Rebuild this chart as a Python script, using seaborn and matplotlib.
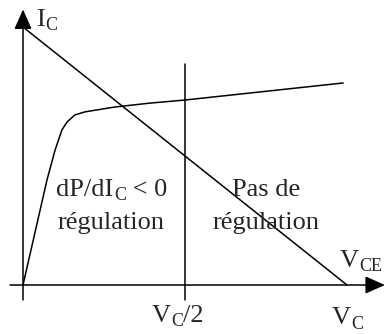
import matplotlib
matplotlib.use("Agg")
import matplotlib.pyplot as plt
import seaborn as sns
import pandas as pd

# Transistor output characteristic I_C(V_CE), normalised so that V_C = 1 and I_C(max of load line) = 1
curve_vce = [0.0, 0.074, 0.099, 0.120, 0.136, 0.160, 0.191, 0.284, 0.392, 0.500, 0.988]
curve_ic = [0.0, 0.407, 0.523, 0.601, 0.632, 0.659, 0.671, 0.690, 0.705, 0.717, 0.783]

# Load line from (0, I_C max) to (V_C, 0)
load_vce = [0.0, 1.0]
load_ic = [1.0, 0.0]

# Vertical marker at V_C/2
half_x = [0.5, 0.5]
half_y = [-0.058, 0.857]

sns.set_theme(style="white")
plt.rcParams["font.family"] = ["Liberation Serif", "DejaVu Serif"]

fig = plt.figure(figsize=(3.85, 3.34), dpi=100)
ax = fig.add_axes([0, 0, 1, 1])
ax.set_xlim(-23 / 324, (385 - 23) / 324)
ax.set_ylim((285 - 334) / 258, 285 / 258)
ax.axis("off")

lw = 1.1
curve = pd.DataFrame({"vce": curve_vce, "ic": curve_ic})
load = pd.DataFrame({"vce": load_vce, "ic": load_ic})
half = pd.DataFrame({"vce": half_x, "ic": half_y})
sns.lineplot(data=curve, x="vce", y="ic", ax=ax, color="black", lw=lw, sort=False)
sns.lineplot(data=load, x="vce", y="ic", ax=ax, color="black", lw=lw, sort=False)
sns.lineplot(data=half, x="vce", y="ic", ax=ax, color="black", lw=lw, sort=False,
             orient="y")

# Axes with arrow heads
arrow = dict(arrowstyle="-|>,head_length=0.45,head_width=0.2", lw=lw, color="black",
             mutation_scale=27, shrinkA=0, shrinkB=0)
ax.annotate("", xy=(0, 1.068), xytext=(0, -0.058), arrowprops=arrow)
ax.annotate("", xy=(1.117, 0), xytext=(-0.040, 0), arrowprops=arrow)

fs = 19
fs_sub = 13


def subscripted(x, y, base, sub, tail="", ha="left"):
    """Write base text with a dropped subscript and an optional tail on the main baseline."""
    t = ax.text(x, y, base, fontsize=fs, ha="left", va="baseline")
    s = ax.annotate(sub, xy=(1, 0), xycoords=t, xytext=(0.5, 0.5),
                    textcoords="offset points", fontsize=fs_sub,
                    ha="left", va="baseline")
    if tail:
        ax.annotate(tail, xy=(1, y), xycoords=(s, "data"), xytext=(-0.5, 0),
                    textcoords="offset points", fontsize=fs,
                    ha="left", va="baseline")
    return t


subscripted(0.040, 1.004, "I", "C")
subscripted(0.976, 0.070, "V", "CE")
subscripted(0.398, -0.143, "V", "C", "/2")
subscripted(0.953, -0.153, "V", "C")

subscripted(0.103, 0.345, "dP/dI", "C", " < 0")
ax.text(0.272, 0.217, "régulation", fontsize=fs, ha="center", va="baseline")
ax.text(0.750, 0.345, "Pas de", fontsize=fs, ha="center", va="baseline")
ax.text(0.750, 0.217, "régulation", fontsize=fs, ha="center", va="baseline")

fig.savefig("out.png", dpi=100)
